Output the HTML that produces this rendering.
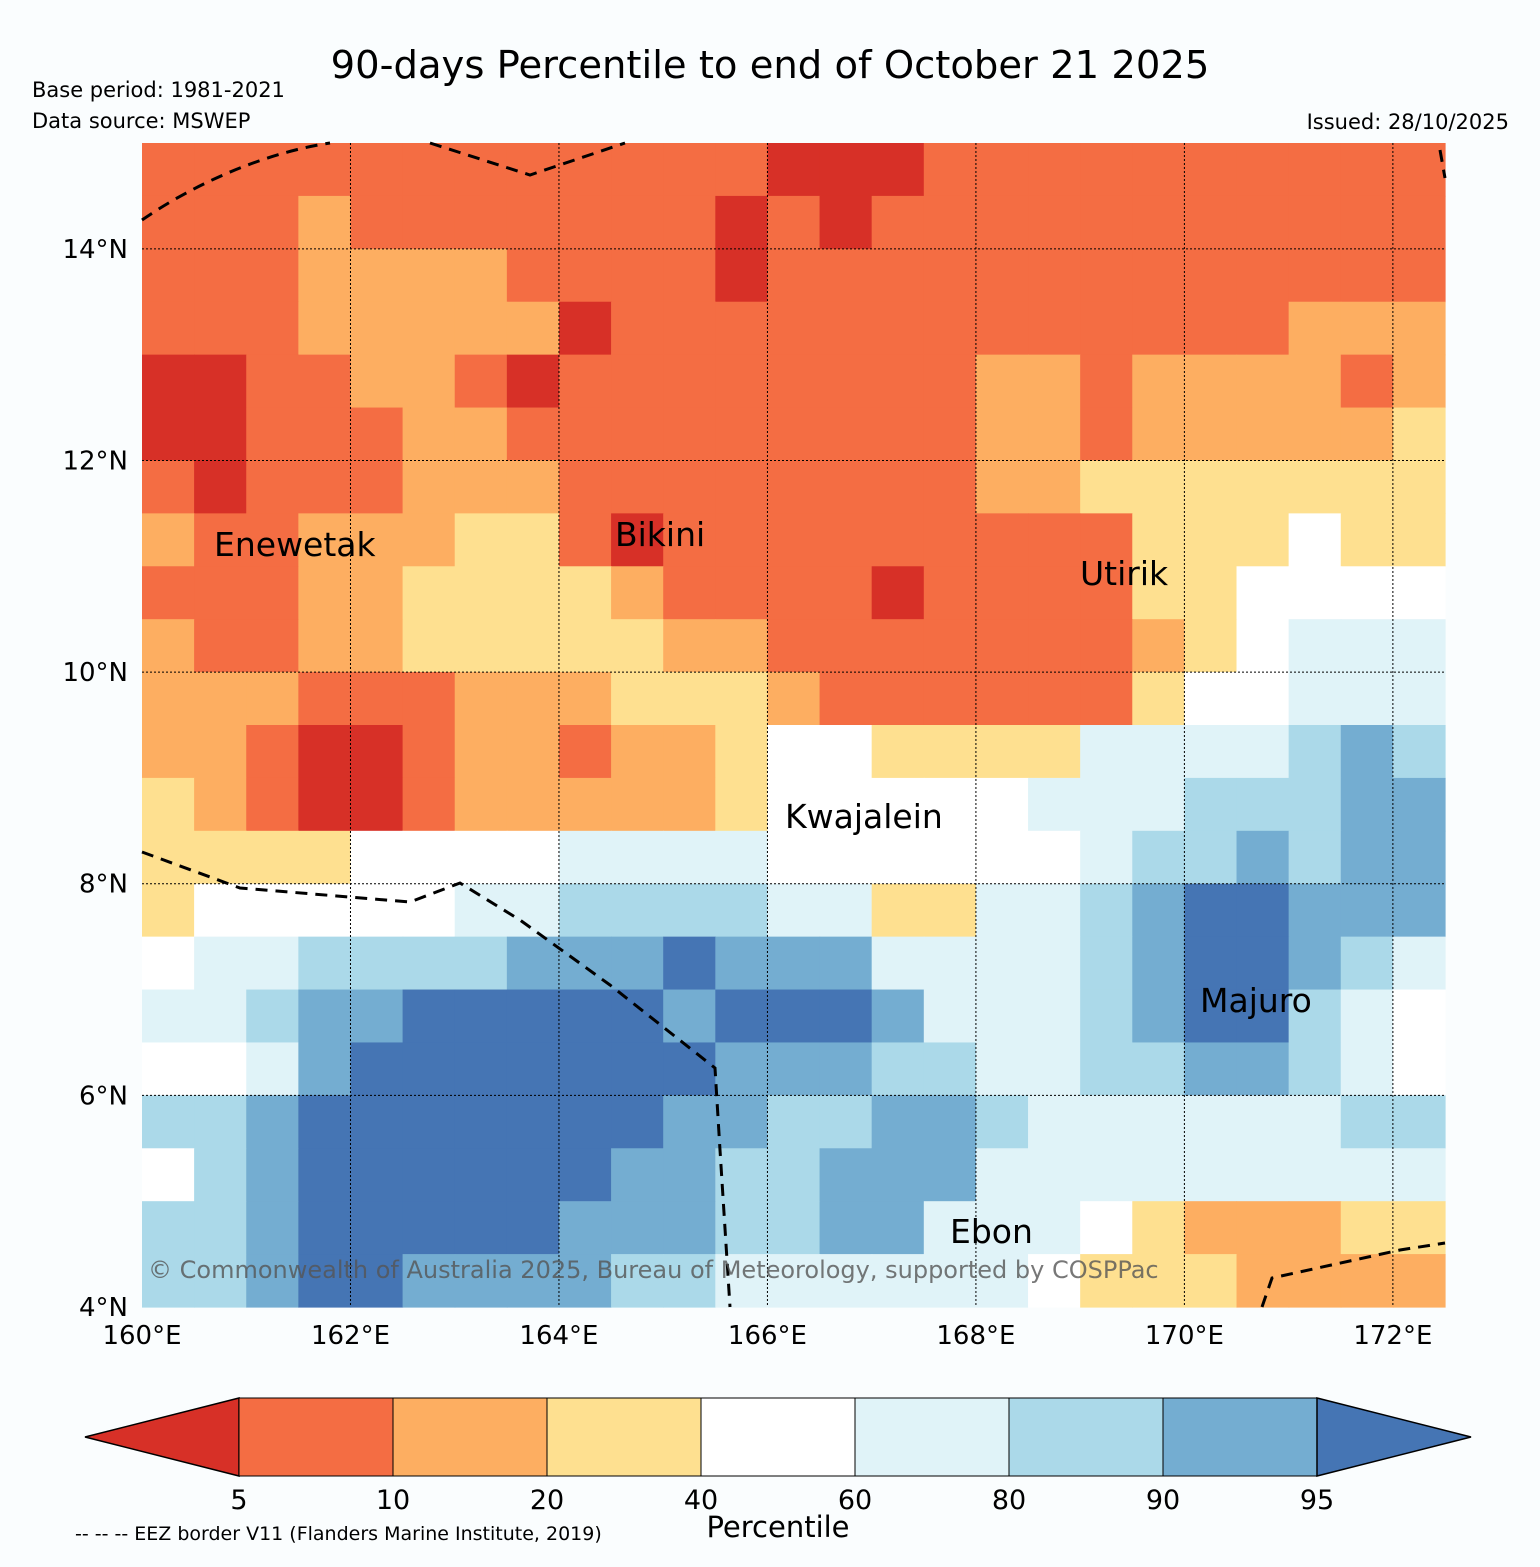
<!DOCTYPE html>
<html><head><meta charset="utf-8">
<style>
body{margin:0;background:#fafdfe;font-family:"DejaVu Sans","Liberation Sans",sans-serif;}
svg text{font-family:"DejaVu Sans","Liberation Sans",sans-serif;}
</style></head>
<body>
<svg id="chart" width="1540" height="1563" viewBox="0 0 1540 1563" xmlns="http://www.w3.org/2000/svg">
<rect x="0" y="0" width="1540" height="1563" fill="#fafdfe"/>
<text x="770" y="78" font-size="38.5" text-anchor="middle">90-days Percentile to end of October 21 2025</text>
<text x="32" y="97" font-size="21">Base period: 1981-2021</text>
<text x="32" y="128" font-size="21">Data source: MSWEP</text>
<text x="1509" y="129" font-size="21" text-anchor="end">Issued: 28/10/2025</text>
<g id="cells"></g>
<g id="grid"></g>
<g fill="none" stroke="#000" stroke-width="3" stroke-dasharray="12,8">
<path d="M142,220 C200,180 270,152 330,143"/>
<path d="M430,143 L530,175 L625,143"/>
<path d="M142,852 L240,888 L410,902 L460,883 L520,920 L610,985 L715,1068 L720,1150 L730,1307"/>
<path d="M1262,1307 L1272,1278 L1400,1250 L1445,1243"/>
<path d="M1440,150 L1445,178"/>
</g>
<g font-size="33">
<text x="214" y="556">Enewetak</text>
<text x="615" y="546">Bikini</text>
<text x="1080" y="585">Utirik</text>
<text x="785" y="828">Kwajalein</text>
<text x="1200" y="1012">Majuro</text>
<text x="950" y="1243">Ebon</text>
</g>
<text x="148" y="1278" font-size="24" fill="#555" fill-opacity="0.8">© Commonwealth of Australia 2025, Bureau of Meteorology, supported by COSPPac</text>
<g id="axes" font-size="26"></g>
<g id="cbar"></g>
<text x="778" y="1537" font-size="29" text-anchor="middle">Percentile</text>
<text x="75" y="1540" font-size="19">-- -- -- EEZ border V11 (Flanders Marine Institute, 2019)</text>
</svg>
<script>
// Grid: 0.5° cells, rows from north (15°N) to south (4°N), cols from 160°E to 172.5°E
const lonStart = 160, latTop = 15, cellDeg = 0.5;
// representative percentile per class
const classValues = [3, 7, 15, 30, 50, 70, 85, 92, 97];
const rowsClass = [
"1111111111110001111111111",
"1112111111101011111111111",
"1112222111101111111111111",
"1112222201111111111111222",
"0011221011111111221222212",
"0011122111111111221222223",
"1011122211111111223333333",
"2112223310111111111333433",
"1112233332111101111334444",
"2112233333221111111234555",
"2221112223332111111344555",
"2210012212234433335555676",
"3210012222234444455566677",
"3333444455554444445667677",
"3444445566665533556788777",
"4556666777877755556788765",
"5567788888788875556788654",
"4457888888877766556677654",
"6678888888776677655555566",
"4678888887766777555555555",
"6678888877766775554322233",
"6678877776655555543332222"
];
const gridValues = rowsClass.map(r => r.split('').map(c => classValues[+c]));
const thresholds = [5,10,20,40,60,80,90,95];
const palette = ["#d73027","#f46d43","#fdae61","#fee090","#ffffff","#e0f3f8","#abd9e9","#74add1","#4575b4"];
const lonTicks = [160,162,164,166,168,170,172];
const latTicks = [4,6,8,10,12,14];
const cbarTicks = ["5","10","20","40","60","80","90","95"];

const x0=142, x1=1445, y0=143, y1=1307;
const xScale = lon => x0 + (lon-160)*(x1-x0)/12.5;
const yScale = lat => y1 - (lat-4)*(y1-y0)/11;
const colorFor = v => { let i=0; while(i<thresholds.length && v>=thresholds[i]) i++; return palette[i]; };
const NS="http://www.w3.org/2000/svg";
const cells=document.getElementById('cells');
gridValues.forEach((row,ri)=>row.forEach((v,ci)=>{
  const lonA=lonStart+ci*cellDeg, latA=latTop-ri*cellDeg;
  const r=document.createElementNS(NS,'rect');
  r.setAttribute('x',xScale(lonA)); r.setAttribute('y',yScale(latA));
  r.setAttribute('width',xScale(lonA+cellDeg)-xScale(lonA)+0.6);
  r.setAttribute('height',yScale(latA-cellDeg)-yScale(latA)+0.6);
  r.setAttribute('fill',colorFor(v));
  
  
  cells.appendChild(r);
}));
const grid=document.getElementById('grid'), axes=document.getElementById('axes');
lonTicks.forEach(l=>{
  const x=xScale(l);
  if(l>160){const ln=document.createElementNS(NS,'line');
  ln.setAttribute('x1',x);ln.setAttribute('x2',x);ln.setAttribute('y1',y0);ln.setAttribute('y2',y1);
  ln.setAttribute('stroke','#000');ln.setAttribute('stroke-width','1');ln.setAttribute('stroke-dasharray','2,2');
  
  
  grid.appendChild(ln);}
  const t=document.createElementNS(NS,'text');
  t.setAttribute('x',x);t.setAttribute('y',1344);t.setAttribute('text-anchor','middle');t.textContent=l+'°E';
  
  
  axes.appendChild(t);
});
latTicks.forEach(l=>{
  const y=yScale(l);
  if(l>4){const ln=document.createElementNS(NS,'line');
  ln.setAttribute('x1',x0);ln.setAttribute('x2',x1);ln.setAttribute('y1',y);ln.setAttribute('y2',y);
  ln.setAttribute('stroke','#000');ln.setAttribute('stroke-width','1');ln.setAttribute('stroke-dasharray','2,2');
  
  
  grid.appendChild(ln);}
  const t=document.createElementNS(NS,'text');
  t.setAttribute('x',128);t.setAttribute('y',y+9);t.setAttribute('text-anchor','end');t.textContent=l+'°N';
  
  
  axes.appendChild(t);
});
const cb=document.getElementById('cbar');
const cbx0=239, cbw=154, cby=1398, cbh=78;
const tri1=document.createElementNS(NS,'polygon');
tri1.setAttribute('points',`${cbx0},${cby} ${cbx0},${cby+cbh} 85,${cby+cbh/2}`);
tri1.setAttribute('fill',palette[0]);tri1.setAttribute('stroke','#000');tri1.setAttribute('stroke-width','1.5');


cb.appendChild(tri1);
for(let i=1;i<palette.length-1;i++){
  const r=document.createElementNS(NS,'rect');
  r.setAttribute('x',cbx0+(i-1)*cbw);r.setAttribute('y',cby);r.setAttribute('width',cbw);r.setAttribute('height',cbh);
  r.setAttribute('fill',palette[i]);r.setAttribute('stroke','#000');r.setAttribute('stroke-width','1');
  
  
  cb.appendChild(r);
}
const endX=cbx0+7*cbw;
const tri2=document.createElementNS(NS,'polygon');
tri2.setAttribute('points',`${endX},${cby} ${endX},${cby+cbh} 1471,${cby+cbh/2}`);
tri2.setAttribute('fill',palette[8]);tri2.setAttribute('stroke','#000');tri2.setAttribute('stroke-width','1.5');


cb.appendChild(tri2);
cbarTicks.forEach((lab,i)=>{
  const t=document.createElementNS(NS,'text');
  t.setAttribute('x',cbx0+i*cbw);t.setAttribute('y',1509);t.setAttribute('text-anchor','middle');t.setAttribute('font-size','27');
  t.textContent=lab;
  
  
  cb.appendChild(t);
});
</script>
</body></html>
